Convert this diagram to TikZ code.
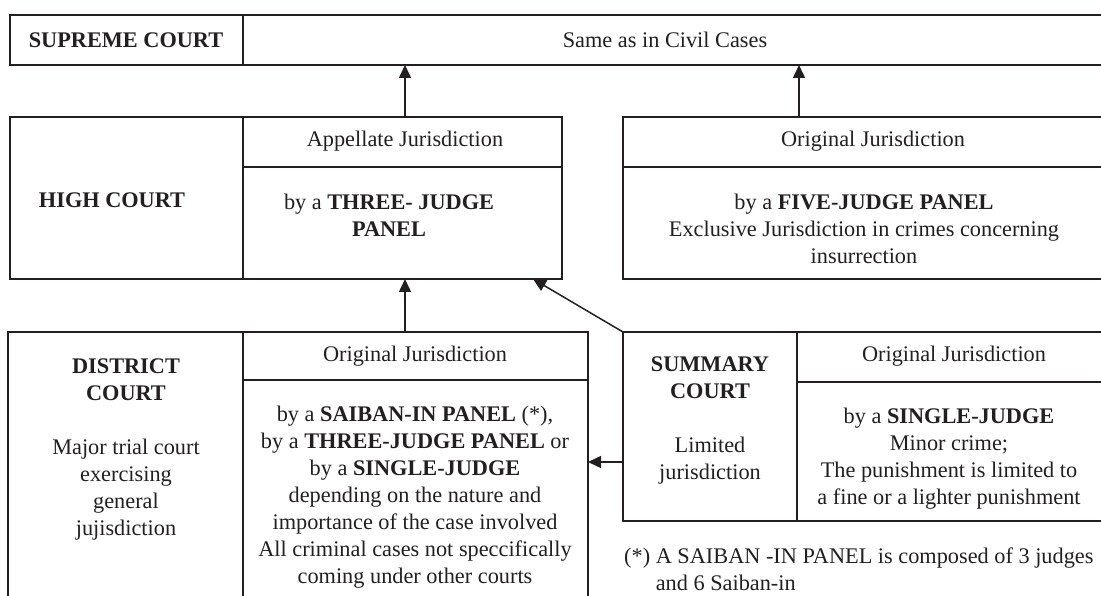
\documentclass[tikz,border=0pt]{standalone}
\usepackage{fontspec}
\setmainfont{Liberation Serif}
\usetikzlibrary{arrows.meta}
\definecolor{ink}{RGB}{35,31,32}
\begin{document}
\begin{tikzpicture}[x=1pt,y=-1pt,
  font=\fontsize{22.3}{27}\selectfont,
  cell/.style={draw=ink, line width=1.6pt, anchor=north west, inner sep=0pt, outer sep=0pt},
  txt/.style={text=ink, align=center, inner sep=0pt},
  arr/.style={draw=ink, line width=1.5pt, -{Triangle[length=13pt,width=12pt]}}]
\useasboundingbox (0,0) rectangle (1101,596);
\clip (0,0) rectangle (1101,596);
% Supreme court
\node[cell, minimum width=233pt, minimum height=50pt] (supL) at (10,15) {};
\node[cell, minimum width=870pt, minimum height=50pt] (supR) at (243,15) {};
% High court
\node[cell, minimum width=233pt, minimum height=162pt] (hcL) at (10,117) {};
\node[cell, minimum width=319pt, minimum height=50pt] (hcH) at (243,117) {};
\node[cell, minimum width=319pt, minimum height=112pt] (hcB) at (243,167) {};
\node[cell, minimum width=490pt, minimum height=50pt] (ohH) at (623,117) {};
\node[cell, minimum width=490pt, minimum height=112pt] (ohB) at (623,167) {};
% District court
\node[cell, minimum width=235pt, minimum height=290pt] (dL) at (8,332) {};
\node[cell, minimum width=345pt, minimum height=48pt] (dH) at (243,332) {};
\node[cell, minimum width=345pt, minimum height=240pt] (dB) at (243,380) {};
% Summary court
\node[cell, minimum width=174pt, minimum height=189pt] (sL) at (623,332) {};
\node[cell, minimum width=316pt, minimum height=50pt] (sH) at (797,332) {};
\node[cell, minimum width=316pt, minimum height=139pt] (sB) at (797,382) {};
% texts
\node[txt] (tSup) at (126,40) {\textbf{SUPREME COURT}};
\node[txt] (tSame) at (665,40) {Same as in Civil Cases};
\node[txt] (tHC) at (112,200) {\textbf{HIGH COURT}};
\node[txt] (tApp) at (405,141) {Appellate Jurisdiction};
\node[txt] (tThree) at (389,215) {by a \textbf{THREE- JUDGE}\\\textbf{PANEL}};
\node[txt] (tOH) at (873,141) {Original Jurisdiction};
\node[txt] (tFive) at (864,229) {by a \textbf{FIVE-JUDGE PANEL}\\Exclusive Jurisdiction in crimes concerning\\insurrection};
\node[txt] (tDC) at (126,449) {\textbf{DISTRICT}\\\textbf{COURT}\\[27pt]Major trial court\\exercising\\general\\jujisdiction};
\node[txt] (tDOJ) at (415,356) {Original Jurisdiction};
\node[txt] (tDB) at (415,497) {by a \textbf{SAIBAN-IN PANEL} (*),\\by a \textbf{THREE-JUDGE PANEL} or\\by a \textbf{SINGLE-JUDGE}\\depending on the nature and\\importance of the case involved\\All criminal cases not speccifically\\coming under other courts};
\node[txt] (tSC) at (710,420) {\textbf{SUMMARY}\\\textbf{COURT}\\[27pt]Limited\\jurisdiction};
\node[txt] (tSOJ) at (954,356) {Original Jurisdiction};
\node[txt] (tSB) at (949,459) {by a \textbf{SINGLE-JUDGE}\\Minor crime;\\The punishment is limited to\\a fine or a lighter punishment};
\node[txt, anchor=west, align=left] (tNote) at (624,569) {(*) A SAIBAN -IN PANEL is composed of 3 judges\\\hphantom{(*)}\ and 6 Saiban-in};
% connector guides
\coordinate (a1) at (405,0);
\coordinate (a2) at (799,0);
\coordinate (a3) at (533,0);
\coordinate (a4) at (0,462);
% connectors
\draw[arr] (hcH.north -| a1) -- (supR.south -| a1);
\draw[arr] (ohH.north -| a2) -- (supR.south -| a2);
\draw[arr] (dH.north -| a1) -- (hcB.south -| a1);
\draw[arr] (sL.north west) -- (hcB.south -| a3);
\draw[arr] (sL.west |- a4) -- (dB.east |- a4);
\end{tikzpicture}
\end{document}
